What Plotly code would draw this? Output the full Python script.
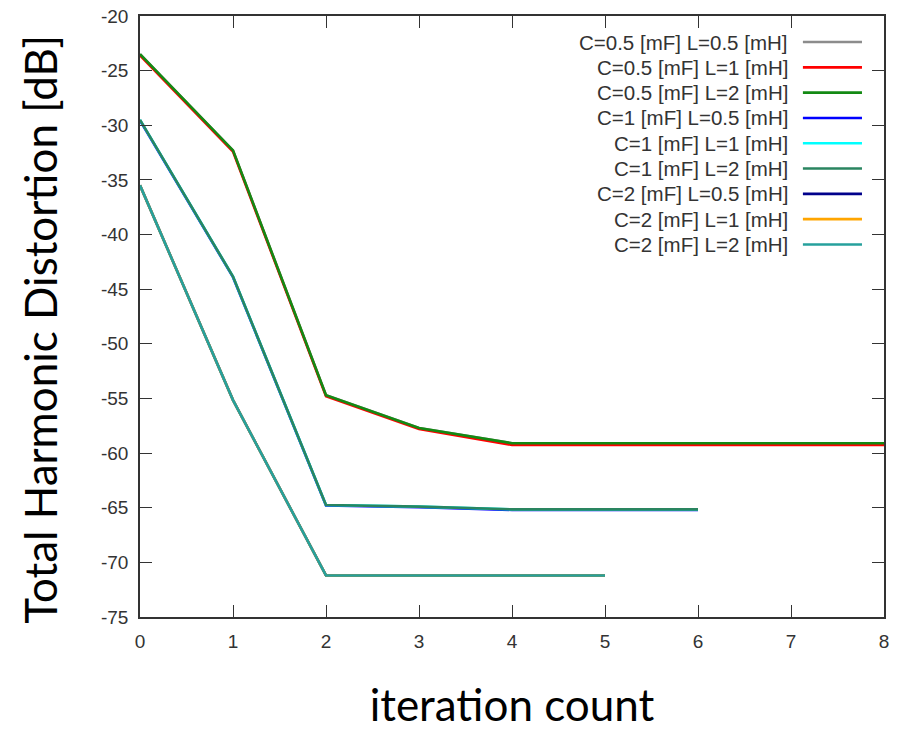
import plotly.graph_objects as go

iterations_8 = [0, 1, 2, 3, 4, 5, 6, 7, 8]
iterations_6 = [0, 1, 2, 3, 4, 5, 6]
iterations_5 = [0, 1, 2, 3, 4, 5]

names = [
    "C=0.5 [mF] L=0.5 [mH]",
    "C=0.5 [mF] L=1 [mH]",
    "C=0.5 [mF] L=2 [mH]",
    "C=1 [mF] L=0.5 [mH]",
    "C=1 [mF] L=1 [mH]",
    "C=1 [mF] L=2 [mH]",
    "C=2 [mF] L=0.5 [mH]",
    "C=2 [mF] L=1 [mH]",
    "C=2 [mF] L=2 [mH]",
]
colors = ["#8c8c8c", "#ff0000", "#138a13", "#0000ff", "#00ffff",
          "#2a8560", "#00008b", "#ffa500", "#26a09c"]

thd_c05_l05 = [-23.5, -32.3, -54.7, -57.7, -59.1, -59.1, -59.1, -59.1, -59.1]
thd_c05_l1 = [-23.6, -32.4, -54.8, -57.8, -59.25, -59.25, -59.25, -59.25, -59.25]
thd_c05_l2 = [-23.5, -32.3, -54.7, -57.7, -59.1, -59.1, -59.1, -59.1, -59.1]
thd_c1_l05 = [-29.55, -43.9, -64.8, -64.95, -65.2, -65.2, -65.2]
thd_c1_l1 = [-29.5, -43.85, -64.75, -64.9, -65.15, -65.15, -65.15]
thd_c1_l2 = [-29.5, -43.85, -64.75, -64.9, -65.15, -65.15, -65.15]
thd_c2_l05 = [-35.5, -55.15, -71.2, -71.2, -71.2, -71.2]
thd_c2_l1 = [-35.5, -55.15, -71.2, -71.2, -71.2, -71.2]
thd_c2_l2 = [-35.5, -55.15, -71.2, -71.2, -71.2, -71.2]

series = [
    (iterations_8, thd_c05_l05),
    (iterations_8, thd_c05_l1),
    (iterations_8, thd_c05_l2),
    (iterations_6, thd_c1_l05),
    (iterations_6, thd_c1_l1),
    (iterations_6, thd_c1_l2),
    (iterations_5, thd_c2_l05),
    (iterations_5, thd_c2_l1),
    (iterations_5, thd_c2_l2),
]

x_ticks = [0, 1, 2, 3, 4, 5, 6, 7, 8]
y_ticks = [-20, -25, -30, -35, -40, -45, -50, -55, -60, -65, -70, -75]

x_title = "iteration count"
y_title = "Total Harmonic Distortion [dB]"

fig = go.Figure()
for (xs, ys), name, color in zip(series, names, colors):
    fig.add_trace(go.Scatter(x=xs, y=ys, mode="lines", name=name,
                             line=dict(color=color, width=2.6),
                             showlegend=False))

# Legend drawn gnuplot-style: right-aligned text, line sample on the right
row0 = 0.9567
row_step = 0.0421
for i, (name, color) in enumerate(zip(names, colors)):
    yy = row0 - i * row_step
    fig.add_annotation(x=0.8737, y=yy, xref="paper", yref="paper",
                       text=name, showarrow=False, xanchor="right",
                       yanchor="middle",
                       font=dict(family="Liberation Sans, Arial", size=20.5,
                                 color="#333333"))
    fig.add_shape(type="line", xref="paper", yref="paper",
                  x0=0.891, x1=0.9704, y0=yy, y1=yy,
                  line=dict(color=color, width=2.6))

# Y-axis title (placed slightly below the plot centre, as in the original)
fig.add_annotation(x=-0.1344, y=0.478, xref="paper", yref="paper",
                   text=y_title, textangle=-90, showarrow=False,
                   xanchor="center", yanchor="middle",
                   font=dict(family="Lato", size=44, color="black"))

axis_common = dict(
    showline=True, linecolor="#333333", linewidth=1.6, mirror="ticks",
    ticks="inside", ticklen=12, tickwidth=1.3, tickcolor="#333333",
    showgrid=False, zeroline=False, automargin=False,
    tickfont=dict(family="Liberation Sans, Arial", size=19, color="#333333"),
)

fig.update_layout(
    width=897, height=730,
    margin=dict(l=140, r=13, t=16, b=113),
    paper_bgcolor="white", plot_bgcolor="white",
    xaxis=dict(range=[0, 8], tickvals=x_ticks, ticktext=[str(v) for v in x_ticks],
               ticklabelstandoff=6,
               title=dict(text=x_title, standoff=47,
                          font=dict(family="Lato", size=44, color="black")),
               **axis_common),
    yaxis=dict(range=[-75, -20], tickvals=y_ticks, ticktext=[str(v) for v in y_ticks],
               ticklabelstandoff=6,
               **axis_common),
)

fig.write_html("out.html")
